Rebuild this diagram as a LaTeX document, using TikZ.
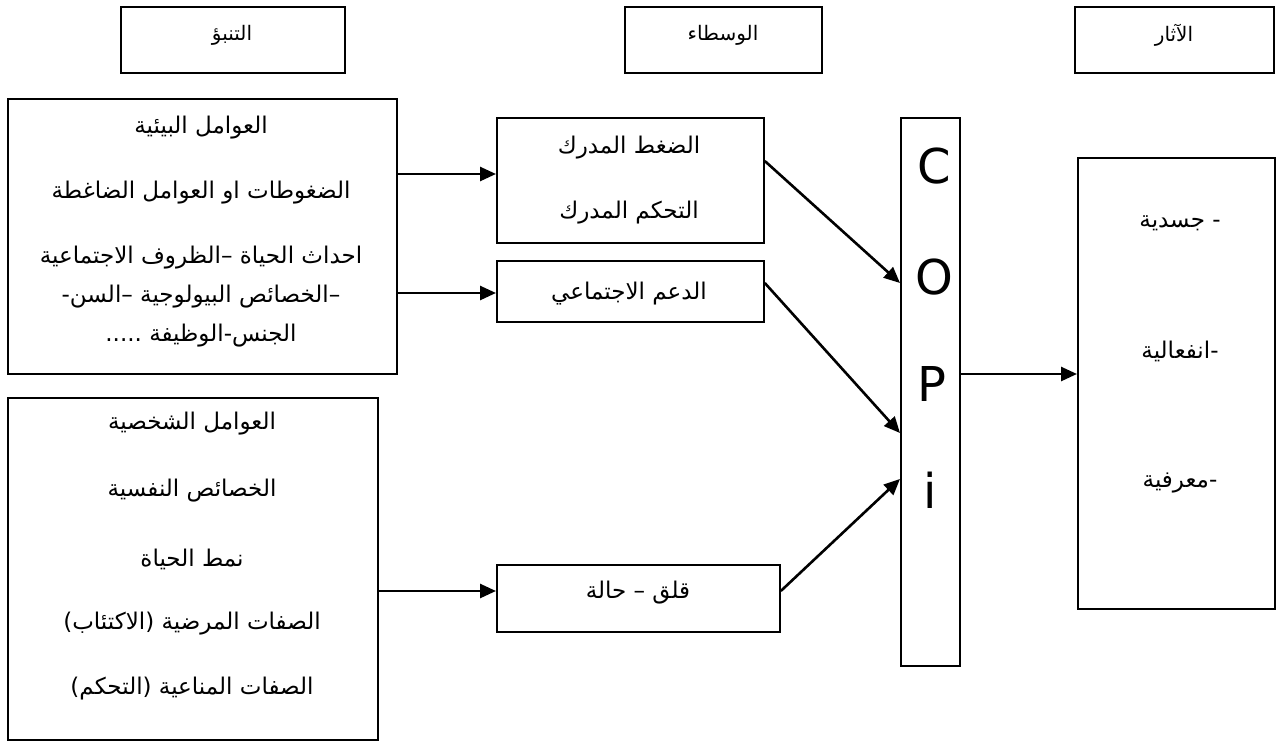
\documentclass[tikz,border=0pt]{standalone}
\usepackage{fontspec}
\usetikzlibrary{arrows.meta}
\TeXXeTstate=1
\newfontfamily\arabicfont[Script=Arabic]{DejaVu Sans}
\newfontfamily\latinsans{DejaVu Sans}
\newcommand{\rtl}[1]{{\arabicfont\beginR #1\endR}}

\begin{document}
\begin{tikzpicture}[x=1pt,y=-1pt,
  box/.style={draw, line width=1.8pt, inner sep=0pt, anchor=north west},
  conn/.style={line width=2.6pt, -{Triangle[length=16pt,width=14pt]}},
  lbl/.style={font=\arabicfont\fontsize{23}{27}\selectfont, inner sep=0pt},
  head/.style={font=\arabicfont\fontsize{20}{24}\selectfont, inner sep=0pt},
  letter/.style={font=\latinsans\fontsize{48}{56}\selectfont, inner sep=0pt}]
\useasboundingbox (0,0) rectangle (1280,747);

% column headings
\node[box, minimum width=224pt, minimum height=66pt] (hP) at (120,6) {};
\node[box, minimum width=197pt, minimum height=66pt] (hM) at (624,6) {};
\node[box, minimum width=199pt, minimum height=66pt] (hE) at (1074,6) {};
\node[head] (hPt) at (232,35) {\rtl{التنبؤ}};
\node[head] (hMt) at (723,35) {\rtl{الوسطاء}};
\node[head] (hEt) at (1174,35) {\rtl{الآثار}};

% predictors
\node[box, minimum width=389pt, minimum height=275pt] (A) at (7,98) {};
\node[box, minimum width=370pt, minimum height=342pt] (B) at (7,397) {};
\node[lbl] (A1) at (201,128) {\rtl{العوامل البيئية}};
\node[lbl] (A2) at (201,193) {\rtl{الضغوطات او العوامل الضاغطة}};
\node[lbl] (A3) at (201,258) {\rtl{احداث الحياة –الظروف الاجتماعية}};
\node[lbl] (A4) at (201,297) {\rtl{–الخصائص البيولوجية –السن-}};
\node[lbl] (A5) at (201,336) {\rtl{الجنس-الوظيفة .....}};
\node[lbl] (B1) at (192,424) {\rtl{العوامل الشخصية}};
\node[lbl] (B2) at (192,491) {\rtl{الخصائص النفسية}};
\node[lbl] (B3) at (192,559) {\rtl{نمط الحياة}};
\node[lbl] (B4) at (192,624) {\rtl{الصفات المرضية (الاكتئاب)}};
\node[lbl] (B5) at (192,689) {\rtl{الصفات المناعية (التحكم)}};

% mediators
\node[box, minimum width=267pt, minimum height=125pt] (m1) at (496,117) {};
\node[box, minimum width=267pt, minimum height=61pt] (m2) at (496,260) {};
\node[box, minimum width=283pt, minimum height=67pt] (m3) at (496,564) {};
\node[lbl] (m1a) at (629,148) {\rtl{الضغط المدرك}};
\node[lbl] (m1b) at (629,213) {\rtl{التحكم المدرك}};
\node[lbl] (m2a) at (629,294) {\rtl{الدعم الاجتماعي}};
\node[lbl] (m3a) at (638,593) {\rtl{قلق – حالة}};

% coping column
\node[box, minimum width=59pt, minimum height=548pt] (copi) at (900,117) {};
\node[letter] (c1) at (934,166) {C};
\node[letter] (c2) at (934,277) {O};
\node[letter] (c3) at (932,384) {P};
\node[letter] (c4) at (930,490) {i};

% effects
\node[box, minimum width=197pt, minimum height=451pt] (eff) at (1077,157) {};
\node[lbl] (e1) at (1180,223) {\rtl{- جسدية}};
\node[lbl] (e2) at (1180,351) {\rtl{-انفعالية}};
\node[lbl] (e3) at (1180,483) {\rtl{-معرفية}};

% connectors
\draw[conn] (A.east |- 0,174) -- (m1.west |- 0,174);
\draw[conn] (A.east |- 0,293) -- (m2.west |- 0,293);
\draw[conn] (B.east |- 0,591) -- (m3.west |- 0,591);
\draw[conn] (m1.east |- 0,161) -- (copi.west |- 0,283);
\draw[conn] (m2.east |- 0,283) -- (copi.west |- 0,433);
\draw[conn] (m3.east |- 0,591) -- (copi.west |- 0,479);
\draw[conn] (copi.east |- 0,374) -- (eff.west |- 0,374);
\end{tikzpicture}
\end{document}
